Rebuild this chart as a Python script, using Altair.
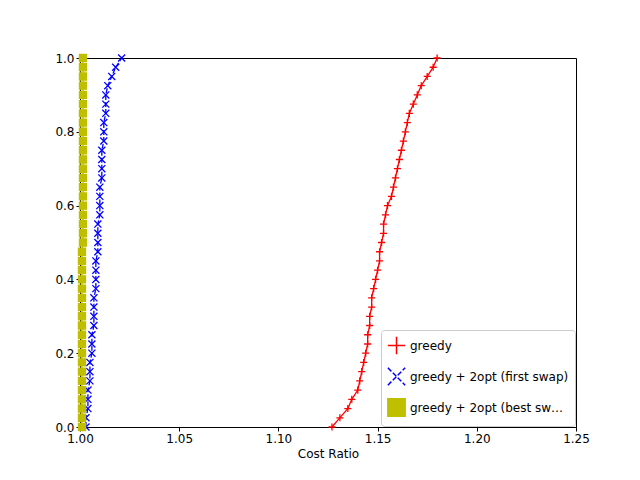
import altair as alt
import pandas as pd

# cost ratio quantiles at cumulative fractions 0, 0.025, ..., 1
greedy = [1.127, 1.131, 1.135, 1.137, 1.140, 1.141, 1.142, 1.143, 1.144, 1.145,
          1.145, 1.146, 1.146, 1.147, 1.147, 1.148, 1.149, 1.150, 1.151, 1.151,
          1.152, 1.153, 1.153, 1.154, 1.155, 1.157, 1.158, 1.159, 1.160, 1.161,
          1.162, 1.163, 1.164, 1.165, 1.166, 1.168, 1.170, 1.172, 1.175, 1.178, 1.180]
first_swap = [1.003, 1.003, 1.004, 1.004, 1.004, 1.005, 1.005, 1.005, 1.006, 1.006,
              1.006, 1.007, 1.007, 1.007, 1.007, 1.008, 1.008, 1.008, 1.008, 1.009,
              1.009, 1.009, 1.009, 1.010, 1.010, 1.010, 1.010, 1.011, 1.011, 1.011,
              1.011, 1.012, 1.012, 1.012, 1.013, 1.013, 1.013, 1.014, 1.016, 1.018, 1.021]
best_swap = [1.001] * 20 + [1.0015] * 21
fractions = [i / 40 for i in range(41)]

names = ["greedy", "greedy + 2opt (first swap)", "greedy + 2opt (best swap)"]
colors = ["#ff0000", "#0000ff", "#bfbf00"]
plus = "M-1,0L1,0M0,-1L0,1"
cross = "M-1,-1L1,1M-1,1L1,-1"

rows = []
for name, vals in zip(names, [greedy, first_swap, best_swap]):
    for x, y in zip(vals, fractions):
        rows.append({"series": name, "ratio": x, "frac": y})
df = pd.DataFrame(rows)

x_enc = alt.X("ratio:Q", title="Cost Ratio", scale=alt.Scale(domain=[1.0, 1.25], nice=False),
              axis=alt.Axis(values=[1.0, 1.05, 1.1, 1.15, 1.2, 1.25], format=".2f", labelFlush=False))
y_enc = alt.Y("frac:Q", title=None, scale=alt.Scale(domain=[0, 1], nice=False),
              axis=alt.Axis(values=[0, 0.2, 0.4, 0.6, 0.8, 1.0], format=".1f", labelFlush=False))
leg = alt.Legend(orient="bottom-right", fillColor="white", strokeColor="#cccccc", padding=6,
                 labelFontSize=12, symbolType="stroke", symbolStrokeWidth=1.5, symbolSize=300,
                 cornerRadius=3, offset=1, rowPadding=6)
col = alt.Color("series:N", scale=alt.Scale(domain=names, range=colors), title=None, legend=leg)

base = alt.Chart(df)
lines = base.mark_line(strokeWidth=1.3).encode(
    x=x_enc, y=y_enc, color=col,
    strokeDash=alt.StrokeDash("series:N", scale=alt.Scale(domain=names, range=[[1, 0], [5, 2], [1, 0]]), legend=None),
    detail="series:N",
)
points = base.mark_point(filled=False, strokeWidth=1.3, size=50, opacity=1).encode(
    x=x_enc, y=y_enc,
    color=alt.Color("series:N", scale=alt.Scale(domain=names, range=colors), legend=None),
    shape=alt.Shape("series:N", scale=alt.Scale(domain=names, range=[plus, cross, "square"]), legend=None),
    fill=alt.Fill("series:N", scale=alt.Scale(domain=names, range=["transparent", "transparent", "#bfbf00"]), legend=None),
)

chart = (
    alt.layer(lines, points)
    .properties(width=496, height=369, autosize=alt.AutoSizeParams(type="none"),
                padding={"left": 72, "top": 50, "right": 56, "bottom": 45}, background="white")
    .configure_view(stroke="black", strokeWidth=1)
    .configure_axis(grid=False, domainColor="black", tickColor="black", labelColor="black",
                    labelFont="DejaVu Sans", titleFont="DejaVu Sans", labelFontSize=12,
                    titleFontSize=12, titleFontWeight="normal", tickSize=4)
    .configure_legend(labelFont="DejaVu Sans")
)
chart.save("out.html", embed_options={"renderer": "svg", "actions": False})
